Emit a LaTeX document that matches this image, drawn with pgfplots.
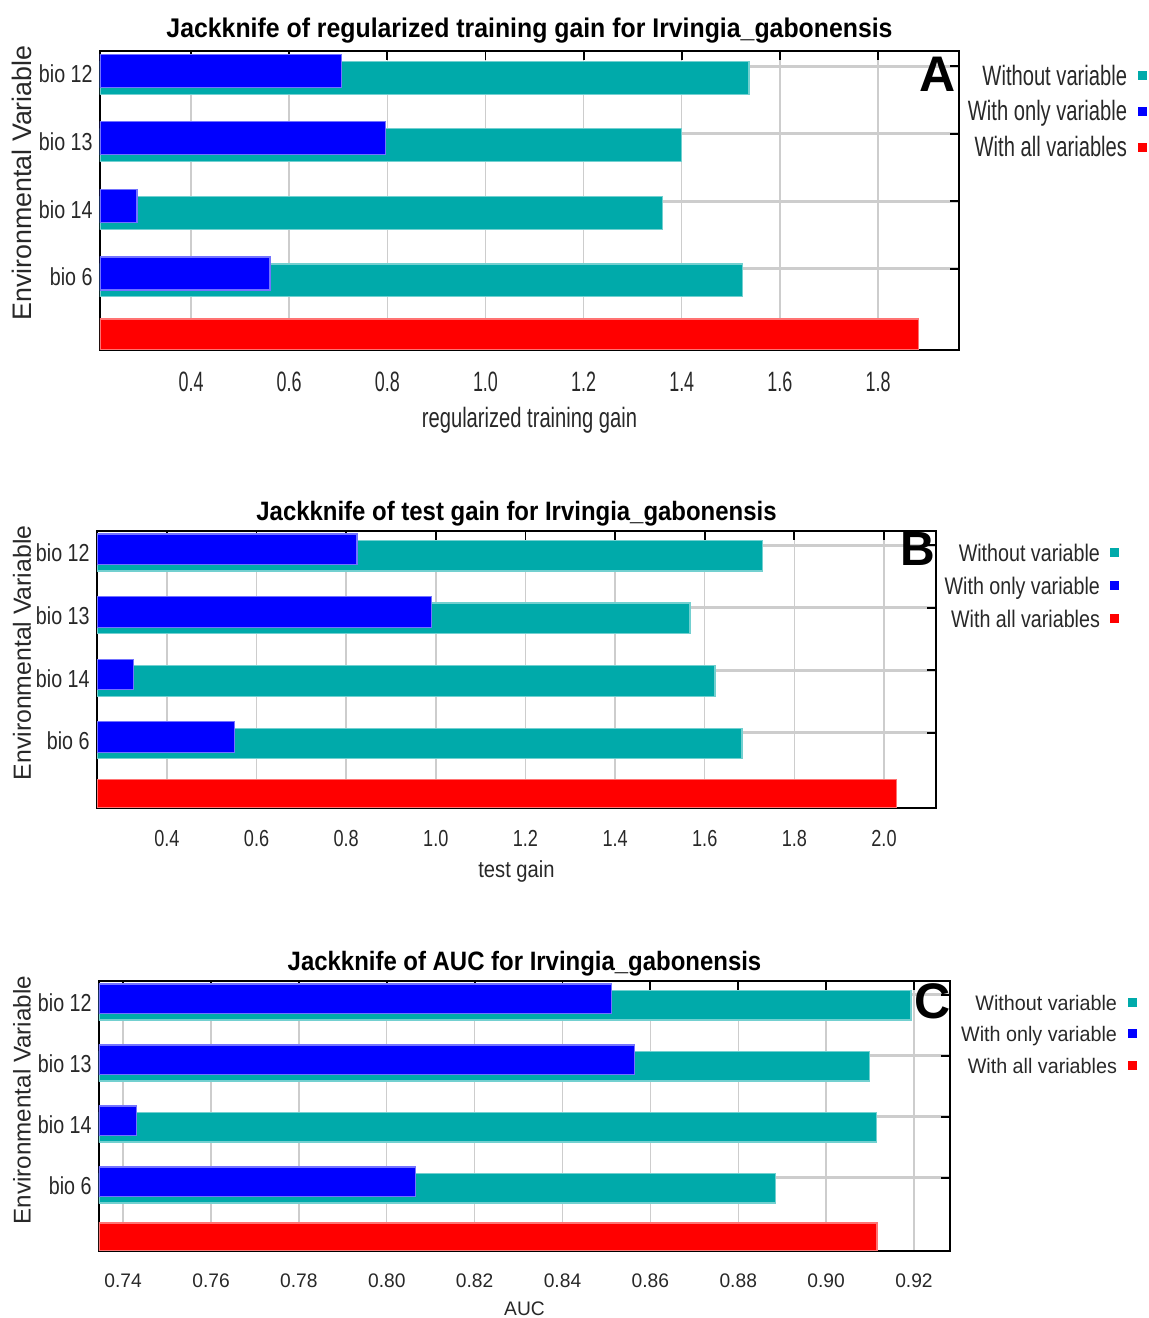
\documentclass[border=0pt]{standalone}
\usepackage{fontspec}
\setmainfont{Liberation Sans}
\usepackage{pgfplots}
\pgfplotsset{compat=1.18}
\newfontfamily\fT[FakeStretch=0.90]{Liberation Sans}
\newfontfamily\fTA[FakeStretch=0.92]{Liberation Sans}
\newfontfamily\fY[FakeStretch=0.80]{Liberation Sans}
\newfontfamily\fAx[FakeStretch=0.64]{Liberation Sans}
\newfontfamily\fAl[FakeStretch=0.72]{Liberation Sans}
\newfontfamily\fBx[FakeStretch=0.78]{Liberation Sans}
\newfontfamily\fBl[FakeStretch=0.82]{Liberation Sans}
\newfontfamily\fBxl[FakeStretch=0.87]{Liberation Sans}
\newfontfamily\fCx[FakeStretch=0.98]{Liberation Sans}
\newfontfamily\fCl[FakeStretch=0.94]{Liberation Sans}
\definecolor{cwo}{RGB}{0,170,170}
\definecolor{cwi}{RGB}{0,0,255}
\definecolor{call}{RGB}{255,0,0}
\definecolor{gridc}{RGB}{205,205,205}
\definecolor{txt}{RGB}{40,40,40}
\pgfplotsset{
  sqleg/.style={legend image code/.code={\fill[##1,draw=none] (0pt,-0.75pt) rectangle (4.5pt,3.75pt);}},
  jk/.style={
    scale only axis, anchor=south west,
    ymin=-0.2, ymax=4.225,
    ytick={1,2,3,4}, yticklabels={bio 6,bio 14,bio 13,bio 12},
    xtick pos=right, xticklabel pos=left,
    ytick pos=right, yticklabel pos=left,
    tick align=inside, major tick length=4.5pt,
    tick style={black, line width=0.9pt},
    axis line style={black, line width=1pt},
    xmajorgrids, ymajorgrids,
    x grid style={gridc, line width=0.7pt},
    y grid style={gridc, line width=1.5pt},
    yticklabel style={font=\fontsize{12.3}{14}\fY, text=txt, anchor=east, inner sep=0pt, xshift=-3.5pt, yshift=-4pt},
    xticklabel style={text=txt, anchor=north, inner sep=0pt, yshift=-11pt},
    title style={at={(0.5,1)}, anchor=base, font=\fontsize{13.3}{15}\fT\bfseries},
    xlabel style={at={(axis description cs:0.5,0)}, anchor=center, inner sep=0pt, text=txt},
    ylabel style={anchor=center, inner sep=0pt, text=txt},
    ylabel={Environmental Variable},
    legend cell align=right, legend plot pos=right,
  },
  wo/.style={xbar, bar shift=0pt, bar width=0.488, fill=cwo, draw=cwo!55, line width=0.6pt, sqleg},
  wi/.style={xbar, bar shift=0pt, bar width=0.488, fill=cwi, draw=cwi!55, line width=0.6pt, sqleg},
  wa/.style={xbar, bar shift=0pt, bar width=0.46, fill=call, draw=call!55, line width=0.6pt, sqleg},
}
\begin{document}
\begin{tikzpicture}
\useasboundingbox (0,0) rectangle (574.5pt,659pt);
% ---------------- A ----------------
\begin{axis}[jk, at={(50pt,484pt)}, width=429.5pt, height=149.5pt,
  xmin=0.2145, xmax=1.965,
  xtick={0.4,0.6,0.8,1.0,1.2,1.4,1.6,1.8},
  xticklabels={0.4,0.6,0.8,1.0,1.2,1.4,1.6,1.8},
  xticklabel style={font=\fontsize{14}{16}\fAx},
  title={Jackknife of regularized training gain for Irvingia\_gabonensis},
  title style={yshift=0.5pt, font=\fontsize{13.5}{15}\fTA\bfseries},
  xlabel={regularized training gain},
  xlabel style={font=\fontsize{14}{16}\fAl, yshift=-35pt},
  ylabel style={at={(axis description cs:-0.0908,0.5585)}, font=\fontsize{13.4}{15}\selectfont},
  legend style={at={(1.2189,0.953)}, anchor=north east, draw=none, fill=none,
    inner sep=0pt, outer sep=0pt, row sep=4.25pt, column sep=5.5pt,
    font=\fontsize{14}{16}\fAl, text=txt,
    nodes={inner sep=0pt, text height=10.1pt, text depth=3.5pt}},
]
\addplot[wo] coordinates {(1.537,3.83) (1.399,2.83) (1.360,1.83) (1.523,0.83)};
\addplot[wi] coordinates {(0.706,3.933) (0.797,2.933) (0.290,1.933) (0.561,0.933)};
\addplot[wa] coordinates {(1.882,0.03)};
\legend{Without variable,With only variable,With all variables}
\node[font=\fontsize{25}{25}\selectfont\bfseries, inner sep=0pt] at (axis description cs:0.9756,0.9214) {A};
\end{axis}
% ---------------- B ----------------
\begin{axis}[jk, at={(48.5pt,255pt)}, width=419.5pt, height=138.5pt,
  xmin=0.244, xmax=2.116,
  xtick={0.4,0.6,0.8,1.0,1.2,1.4,1.6,1.8,2.0},
  xticklabels={0.4,0.6,0.8,1.0,1.2,1.4,1.6,1.8,2.0},
  xticklabel style={font=\fontsize{11.6}{14}\fBx},
  title={Jackknife of test gain for Irvingia\_gabonensis},
  title style={yshift=-1pt},
  xlabel={test gain},
  xlabel style={font=\fontsize{11.6}{14}\fBxl, yshift=-32pt},
  ylabel style={at={(axis description cs:-0.0894,0.56)}, font=\fontsize{12.4}{14}\selectfont},
  legend style={at={(1.218,0.952)}, anchor=north east, draw=none, fill=none,
    inner sep=0pt, outer sep=0pt, row sep=4.86pt, column sep=5pt,
    font=\fontsize{12}{14}\fBl, text=txt,
    nodes={inner sep=0pt, text height=8.64pt, text depth=3pt}},
]
\addplot[wo] coordinates {(1.728,3.83) (1.567,2.83) (1.623,1.83) (1.683,0.83)};
\addplot[wi] coordinates {(0.824,3.933) (0.991,2.933) (0.326,1.933) (0.550,0.933)};
\addplot[wa] coordinates {(2.027,0.03)};
\legend{Without variable,With only variable,With all variables}
\node[font=\fontsize{24}{24}\selectfont\bfseries, inner sep=0pt] at (axis description cs:0.9785,0.935) {B};
\end{axis}
% ---------------- C ----------------
\begin{axis}[jk, at={(49.5pt,33.5pt)}, width=425.5pt, height=135pt,
  xmin=0.7345, xmax=0.9282,
  xtick={0.74,0.76,0.78,0.80,0.82,0.84,0.86,0.88,0.90,0.92},
  xticklabels={0.74,0.76,0.78,0.80,0.82,0.84,0.86,0.88,0.90,0.92},
  xticklabel style={font=\fontsize{9.8}{12}\fCx},
  title={Jackknife of AUC for Irvingia\_gabonensis},
  title style={yshift=-1pt},
  xlabel={AUC},
  xlabel style={font=\fontsize{9.8}{12}\fCx, yshift=-29pt},
  ylabel style={at={(axis description cs:-0.0905,0.559)}, font=\fontsize{12.1}{14}\selectfont},
  legend style={at={(1.2197,0.9485)}, anchor=north east, draw=none, fill=none,
    inner sep=0pt, outer sep=0pt, row sep=5.8pt, column sep=5.5pt,
    font=\fontsize{10.5}{12}\fCl, text=txt,
    nodes={inner sep=0pt, text height=7.56pt, text depth=2.6pt}},
]
\addplot[wo] coordinates {(0.9193,3.83) (0.9098,2.83) (0.9114,1.83) (0.8884,0.83)};
\addplot[wi] coordinates {(0.8511,3.933) (0.8563,2.933) (0.7430,1.933) (0.8065,0.933)};
\addplot[wa] coordinates {(0.9116,0.03)};
\legend{Without variable,With only variable,With all variables}
\node[font=\fontsize{25}{25}\selectfont\bfseries, inner sep=0pt] at (axis description cs:0.980,0.924) {C};
\end{axis}
\end{tikzpicture}
\end{document}
